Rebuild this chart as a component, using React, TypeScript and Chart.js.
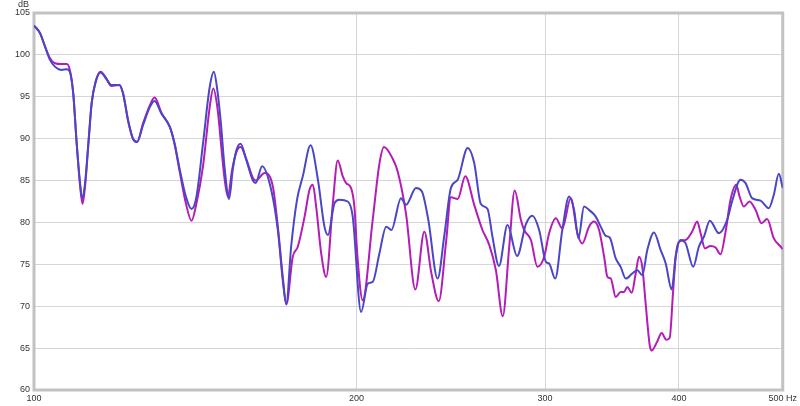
import React, { useEffect, useRef } from "react";
import { Chart, registerables } from "chart.js";

Chart.register(...registerables);

const xTicks = [100, 200, 300, 400, 500];
const xTickLabels = ["100", "200", "300", "400", "500 Hz"];
const yMin = 60;
const yMax = 105;
const yStep = 5;
const yUnit = "dB";

// [frequency Hz, level dB]
const blueCurve: [number, number][] = [
  [100.0, 103.5], [101.3, 102.6], [102.4, 101.0], [103.5, 99.4], [104.6, 98.6], [106.1, 98.2],
  [107.3, 98.3], [108.0, 98.0], [108.8, 95.4], [109.6, 89.5], [110.4, 84.7], [110.9, 82.9],
  [111.6, 84.7], [112.4, 89.5], [113.2, 94.3], [114.2, 96.8], [115.4, 97.9], [116.7, 97.2],
  [118.1, 96.4], [120.1, 96.4], [121.1, 95.4], [122.4, 92.2], [123.7, 90.0], [124.8, 89.6],
  [126.4, 91.6], [128.3, 93.8], [129.6, 94.5], [131.5, 93.0], [133.9, 91.4], [135.3, 89.4],
  [136.8, 86.3], [138.6, 83.1], [140.3, 81.6], [141.8, 83.1], [143.8, 89.4], [145.9, 96.2],
  [147.2, 98.0], [148.4, 95.5], [149.4, 92.0], [150.7, 86.3], [152.1, 82.8], [153.3, 86.3],
  [154.5, 88.6], [155.9, 89.4], [157.8, 87.5], [160.1, 85.0], [161.0, 84.7], [163.3, 86.7],
  [166.5, 83.9], [168.9, 79.1], [170.7, 73.1], [172.0, 70.3], [173.8, 77.1], [176.0, 82.7],
  [178.2, 85.5], [181.2, 89.2], [184.1, 85.1], [186.7, 79.5], [188.1, 78.5], [190.8, 82.3],
  [192.8, 82.7], [196.3, 82.5], [198.4, 80.7], [202.0, 69.3], [204.9, 72.7], [207.1, 72.9],
  [210.1, 76.3], [213.2, 79.5], [215.6, 79.1], [220.1, 82.9], [222.5, 82.1], [227.3, 84.1],
  [230.2, 83.7], [233.4, 80.3], [238.1, 73.3], [241.6, 78.5], [245.0, 84.1], [248.6, 85.1],
  [254.0, 88.9], [257.6, 87.1], [261.3, 82.2], [265.1, 81.6], [267.9, 78.3], [271.7, 74.8],
  [276.7, 79.7], [282.5, 76.0], [287.9, 79.8], [291.9, 80.8], [296.2, 79.1], [300.5, 75.3],
  [302.6, 75.1], [306.6, 73.3], [311.3, 79.1], [315.9, 83.1], [319.3, 81.5], [322.3, 78.1],
  [326.2, 81.9], [329.7, 81.5], [334.5, 80.7], [338.1, 79.5], [341.8, 78.4], [344.7, 78.2],
  [349.2, 75.7], [352.9, 74.7], [356.8, 73.3], [361.8, 73.9], [365.8, 74.3], [369.7, 73.7],
  [373.7, 76.7], [379.1, 78.8], [384.6, 76.7], [388.8, 75.1], [393.8, 72.0], [397.2, 75.9],
  [401.4, 77.9], [405.8, 77.5], [412.5, 74.7], [417.5, 77.1], [422.1, 78.3], [427.5, 80.2],
  [435.9, 78.7], [443.7, 80.3], [448.4, 82.5], [456.6, 85.1], [461.6, 84.7], [468.1, 82.9],
  [476.7, 82.6], [485.2, 81.7], [490.5, 83.3], [495.8, 85.8], [500.0, 84.1],
];

const magentaCurve: [number, number][] = [
  [100.0, 103.5], [101.3, 102.6], [102.4, 101.0], [103.5, 99.6], [104.6, 99.0], [106.1, 98.9],
  [107.3, 98.9], [108.0, 98.2], [108.8, 95.4], [109.6, 89.5], [110.4, 84.5], [111.0, 82.2],
  [111.6, 84.3], [112.4, 89.3], [113.2, 94.2], [114.2, 96.9], [115.4, 98.0], [116.7, 97.3],
  [118.1, 96.3], [120.1, 96.4], [121.1, 95.4], [122.4, 92.2], [123.7, 90.0], [124.8, 89.6],
  [126.4, 91.8], [128.3, 94.0], [129.6, 94.9], [131.5, 93.1], [133.9, 91.4], [135.3, 89.3],
  [136.8, 86.0], [138.6, 82.3], [140.3, 80.2], [141.8, 82.3], [143.8, 86.7], [145.9, 93.8],
  [147.0, 96.0], [148.4, 93.5], [149.7, 88.5], [150.7, 85.0], [151.7, 83.1], [153.1, 86.3],
  [154.5, 88.4], [155.9, 89.0], [157.8, 87.6], [160.1, 85.3], [161.0, 85.0], [164.2, 85.9],
  [167.1, 84.3], [168.9, 79.5], [170.7, 73.5], [172.0, 70.2], [174.4, 75.9], [176.3, 77.1],
  [178.9, 80.7], [180.8, 83.9], [182.1, 84.5], [183.4, 81.9], [185.4, 76.3], [187.4, 73.5],
  [190.1, 82.3], [192.1, 87.4], [194.2, 85.5], [195.6, 84.7], [197.7, 84.1], [199.1, 81.9],
  [200.4, 76.0], [202.7, 70.7], [207.1, 80.3], [210.1, 87.0], [212.2, 89.0], [216.2, 87.6],
  [218.5, 86.1], [222.5, 81.0], [227.0, 72.0], [231.4, 78.9], [234.9, 74.0], [238.7, 70.6],
  [242.5, 77.7], [245.0, 83.0], [248.6, 82.8], [252.7, 85.5], [257.6, 82.1], [262.2, 79.1],
  [266.1, 77.3], [269.9, 74.3], [273.9, 68.8], [277.7, 77.0], [281.0, 83.8], [284.8, 80.3],
  [286.8, 79.1], [291.0, 77.9], [295.1, 74.7], [299.4, 75.9], [302.6, 78.7], [307.0, 80.5],
  [311.3, 79.3], [317.0, 82.9], [321.6, 78.7], [325.0, 77.5], [329.7, 79.5], [333.3, 80.1],
  [336.9, 79.1], [340.6, 75.9], [343.0, 73.5], [345.5, 73.3], [349.2, 71.1], [352.9, 71.7],
  [355.5, 71.7], [358.0, 72.3], [361.4, 71.6], [364.5, 73.9], [367.1, 75.9], [369.7, 74.7],
  [372.4, 70.3], [375.6, 65.4], [377.2, 64.7], [381.8, 65.8], [385.4, 66.8], [389.3, 66.0],
  [392.1, 66.2], [394.9, 71.5], [397.2, 75.9], [400.0, 77.7], [405.8, 77.9], [411.5, 78.9],
  [416.0, 80.1], [419.1, 78.7], [423.0, 76.9], [428.1, 77.2], [432.8, 77.0], [437.4, 76.2],
  [442.2, 78.9], [446.9, 82.7], [452.4, 84.5], [455.7, 83.1], [459.9, 81.9], [465.5, 82.5],
  [471.6, 81.5], [477.7, 79.9], [483.5, 80.4], [490.5, 78.1], [498.6, 77.0], [500.0, 76.8],
];

const FONT = "'Liberation Sans', Arial, sans-serif";

export default function App() {
  const ref = useRef<HTMLCanvasElement>(null);

  useEffect(() => {
    document.body.style.margin = "0";
    const canvas = ref.current;
    if (!canvas) return;

    const framePlugin = {
      id: "framePlugin",
      beforeDatasetsDraw(chart: any) {
        const { ctx, chartArea: a } = chart;
        ctx.save();
        ctx.strokeStyle = "#c2c2c2";
        ctx.lineWidth = 3;
        ctx.strokeRect(a.left, a.top, a.right - a.left, a.bottom - a.top);
        ctx.restore();
      },
      afterDraw(chart: any) {
        const { ctx, chartArea: a } = chart;
        ctx.save();
        ctx.font = `9px ${FONT}`;
        ctx.fillStyle = "#333";
        ctx.textAlign = "right";
        ctx.textBaseline = "middle";
        ctx.fillText(yUnit, a.left - 5, 5);
        ctx.restore();
      },
    };

    const chart = new Chart(canvas, {
      type: "line",
      data: {
        datasets: [
          {
            data: blueCurve.map(([x, y]) => ({ x, y })),
            borderColor: "#4a46c6",
            borderWidth: 2,
            pointRadius: 0,
            cubicInterpolationMode: "monotone",
            fill: false,
          },
          {
            data: magentaCurve.map(([x, y]) => ({ x, y })),
            borderColor: "#b41cb6",
            borderWidth: 2,
            pointRadius: 0,
            cubicInterpolationMode: "monotone",
            fill: false,
          },
        ],
      },
      options: {
        responsive: false,
        animation: false,
        devicePixelRatio: 1,
        layout: { padding: { top: 13, right: 16, left: 0, bottom: 0 } },
        plugins: {
          legend: { display: false },
          tooltip: { enabled: false },
        },
        scales: {
          x: {
            type: "logarithmic",
            min: 100,
            max: 500,
            afterBuildTicks: (scale: any) => {
              scale.ticks = xTicks.map((v) => ({ value: v }));
            },
            afterFit: (scale: any) => {
              scale.height = 16;
            },
            grid: { color: "#d6d6d6", lineWidth: 1, drawTicks: false },
            border: { display: false },
            ticks: {
              autoSkip: false,
              maxRotation: 0,
              padding: 3,
              color: "#333",
              font: { size: 9, family: FONT },
              callback: (_v: any, i: number) => xTickLabels[i],
            },
          },
          y: {
            type: "linear",
            min: yMin,
            max: yMax,
            afterFit: (scale: any) => {
              scale.width = 34;
            },
            grid: { color: "#d6d6d6", lineWidth: 1, drawTicks: false },
            border: { display: false },
            ticks: {
              stepSize: yStep,
              padding: 4,
              color: "#333",
              font: { size: 9, family: FONT },
            },
          },
        },
      },
      plugins: [framePlugin],
    } as any);

    return () => chart.destroy();
  }, []);

  return (
    <div style={{ width: 800, height: 406 }}>
      <canvas ref={ref} width={800} height={406} style={{ display: "block" }} />
    </div>
  );
}
